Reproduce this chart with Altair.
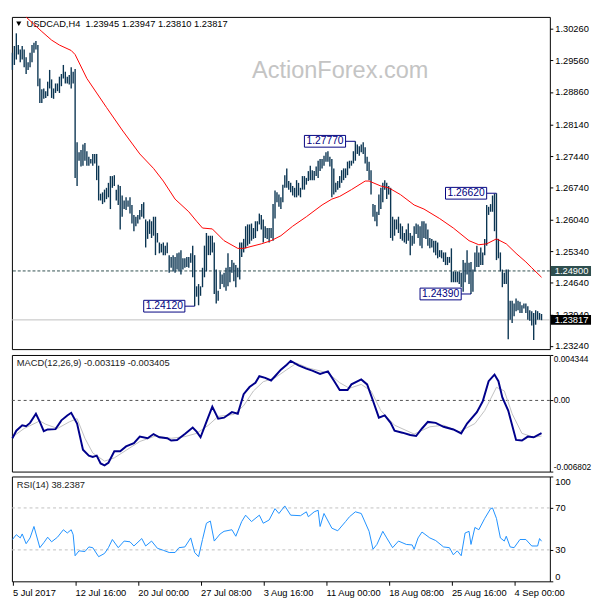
import json
import altair as alt
import pandas as pd

# ---------------- data ----------------
HIGH = [1.2973,1.2988,1.3016,1.2990,1.2980,1.2988,1.2980,1.2963,1.2952,1.2973,
        1.2990,1.2995,1.2999,1.2990,1.2916,1.2892,1.2894,1.2888,1.2909,1.2935,
        1.2914,1.2894,1.2905,1.2905,1.2920,1.2926,1.2946,1.2931,1.2920,1.2924,
        1.2941,1.2931,1.2937,1.2775,1.2753,1.2758,1.2770,1.2773,1.2755,1.2743,
        1.2738,1.2749,1.2749,1.2749,1.2723,1.2661,1.2664,1.2670,1.2674,1.2685,
        1.2700,1.2700,1.2702,1.2670,1.2681,1.2678,1.2657,1.2646,1.2653,1.2646,
        1.2653,1.2636,1.2614,1.2610,1.2614,1.2625,1.2638,1.2642,1.2604,1.2600,
        1.2604,1.2600,1.2610,1.2610,1.2574,1.2553,1.2550,1.2553,1.2546,1.2553,
        1.2525,1.2521,1.2525,1.2521,1.2529,1.2531,1.2536,1.2518,1.2518,1.2521,
        1.2521,1.2529,1.2546,1.2525,1.2456,1.2461,1.2456,1.2497,1.2546,1.2574,
        1.2568,1.2568,1.2568,1.2553,1.2493,1.2446,1.2489,1.2482,1.2486,1.2497,
        1.2529,1.2499,1.2514,1.2508,1.2503,1.2497,1.2553,1.2553,1.2561,1.2589,
        1.2593,1.2593,1.2595,1.2585,1.2600,1.2600,1.2617,1.2614,1.2604,1.2589,
        1.2585,1.2585,1.2585,1.2638,1.2668,1.2664,1.2659,1.2653,1.2681,1.2702,
        1.2717,1.2689,1.2685,1.2678,1.2674,1.2691,1.2685,1.2674,1.2700,1.2700,
        1.2696,1.2711,1.2723,1.2713,1.2711,1.2721,1.2734,1.2738,1.2738,1.2745,
        1.2753,1.2755,1.2743,1.2738,1.2717,1.2685,1.2689,1.2700,1.2713,1.2717,
        1.2717,1.2732,1.2734,1.2734,1.2755,1.2777,1.2770,1.2766,1.2770,1.2775,
        1.2764,1.2743,1.2732,1.2713,1.2638,1.2636,1.2621,1.2659,1.2674,1.2685,
        1.2691,1.2685,1.2678,1.2674,1.2610,1.2604,1.2604,1.2610,1.2595,1.2589,
        1.2574,1.2582,1.2595,1.2574,1.2568,1.2589,1.2595,1.2593,1.2589,1.2600,
        1.2600,1.2595,1.2582,1.2563,1.2561,1.2557,1.2557,1.2553,1.2536,1.2536,
        1.2531,1.2531,1.2521,1.2521,1.2540,1.2489,1.2489,1.2489,1.2489,1.2486,
        1.2514,1.2508,1.2536,1.2508,1.2510,1.2493,1.2531,1.2546,1.2531,1.2542,
        1.2531,1.2561,1.2636,1.2632,1.2638,1.2657,1.2661,1.2662,1.2561,1.2531,
        1.2493,1.2486,1.2493,1.2493,1.2424,1.2424,1.2418,1.2429,1.2424,1.2422,
        1.2414,1.2418,1.2418,1.2412,1.2403,1.2401,1.2397,1.2403,1.2401,1.2397,
        1.23947]
LOW = [1.2935,1.2946,1.2958,1.2969,1.2952,1.2958,1.2941,1.2926,1.2935,1.2941,
       1.2952,1.2973,1.2980,1.2899,1.2862,1.2862,1.2871,1.2873,1.2877,1.2894,
       1.2873,1.2871,1.2884,1.2888,1.2884,1.2899,1.2916,1.2905,1.2905,1.2903,
       1.2894,1.2905,1.2696,1.2678,1.2734,1.2721,1.2723,1.2734,1.2723,1.2723,
       1.2728,1.2723,1.2728,1.2691,1.2646,1.2646,1.2638,1.2642,1.2649,1.2653,
       1.2627,1.2674,1.2678,1.2646,1.2636,1.2582,1.2610,1.2627,1.2625,1.2632,
       1.2617,1.2595,1.2578,1.2589,1.2595,1.2604,1.2610,1.2606,1.2542,1.2561,
       1.2572,1.2563,1.2568,1.2525,1.2553,1.2529,1.2531,1.2525,1.2525,1.2529,
       1.2486,1.2497,1.2489,1.2486,1.2493,1.2489,1.2482,1.2493,1.2497,1.2499,
       1.2497,1.2508,1.2476,1.2412,1.2433,1.2414,1.2435,1.2454,1.2476,1.2489,
       1.2525,1.2525,1.2531,1.2439,1.2418,1.2424,1.2450,1.2461,1.2454,1.2446,
       1.2456,1.2465,1.2486,1.2467,1.2454,1.2476,1.2471,1.2521,1.2531,1.2540,
       1.2546,1.2550,1.2557,1.2561,1.2563,1.2578,1.2593,1.2582,1.2553,1.2563,
       1.2561,1.2553,1.2563,1.2557,1.2606,1.2642,1.2632,1.2627,1.2642,1.2674,
       1.2674,1.2670,1.2664,1.2657,1.2653,1.2653,1.2657,1.2653,1.2670,1.2670,
       1.2681,1.2689,1.2691,1.2691,1.2691,1.2700,1.2696,1.2711,1.2717,1.2723,
       1.2732,1.2732,1.2721,1.2653,1.2659,1.2664,1.2670,1.2674,1.2685,1.2691,
       1.2696,1.2702,1.2717,1.2723,1.2728,1.2734,1.2749,1.2745,1.2753,1.2749,
       1.2728,1.2711,1.2691,1.2659,1.2610,1.2600,1.2589,1.2614,1.2627,1.2642,
       1.2670,1.2649,1.2659,1.2563,1.2557,1.2568,1.2582,1.2574,1.2561,1.2557,
       1.2553,1.2550,1.2557,1.2525,1.2546,1.2550,1.2572,1.2563,1.2546,1.2540,
       1.2563,1.2561,1.2546,1.2540,1.2542,1.2531,1.2525,1.2518,1.2521,1.2518,
       1.2510,1.2503,1.2503,1.2508,1.2465,1.2465,1.2465,1.2465,1.2461,1.2454,
       1.2444,1.2465,1.2482,1.2461,1.2439,1.2444,1.2489,1.2499,1.2499,1.2503,
       1.2503,1.2525,1.2546,1.2614,1.2621,1.2621,1.2578,1.2514,1.2518,1.2489,
       1.2454,1.2461,1.2461,1.2339,1.2382,1.2375,1.2390,1.2401,1.2403,1.2397,
       1.2397,1.2407,1.2397,1.2382,1.2380,1.2369,1.2337,1.2371,1.2382,1.2382,
       1.23810]

MA_IDX = [7,15,20,24,30,32,38,43,48,56,65,72,77,83,90,94,97,102,108,115,118,127,
          132,137,143,150,158,163,167,173,180,182,188,192,198,205,210,218,225,233,
          238,242,247,252,257,262,265,270]
MA_VAL = [1.3052,1.3020,1.3001,1.2990,1.2978,1.2969,1.2916,1.2884,1.2852,1.2802,
          1.2749,1.2717,1.2689,1.2649,1.2621,1.2600,1.2585,1.2583,1.2557,1.2540,
          1.2540,1.2550,1.2557,1.2568,1.2589,1.2610,1.2636,1.2649,1.2655,1.2670,
          1.2689,1.2689,1.2678,1.2674,1.2659,1.2636,1.2627,1.2606,1.2585,1.2557,
          1.2548,1.2550,1.2561,1.2550,1.2529,1.2510,1.2497,1.2476]

MACD_IDX = [0,2,5,7,9,12,14,16,18,22,25,28,30,33,36,39,41,43,45,47,49,52,55,58,62,
            65,69,72,75,79,81,84,88,92,94,96,99,102,105,108,112,115,118,121,124,
            126,129,132,134,137,140,142,146,150,153,157,161,164,167,171,173,178,
            181,184,187,190,193,195,199,203,206,209,212,216,220,225,229,232,237,
            240,243,246,248,250,253,257,260,263,266,270]
MACD_VAL = [-0.003617,-0.002896,-0.002371,-0.002465,-0.002147,-0.001276,-0.002053,
            -0.002933,-0.002774,-0.002746,-0.001903,-0.001435,-0.001182,-0.002212,
            -0.004713,-0.005275,-0.005397,-0.005275,-0.006024,-0.006211,-0.005959,
            -0.004863,-0.004863,-0.004394,-0.004085,-0.003458,-0.003617,-0.003214,
            -0.003523,-0.003617,-0.003833,-0.003776,-0.003214,-0.002587,-0.002990,
            -0.003523,-0.002053,-0.000592,-0.001744,-0.001650,-0.001116,-0.001276,
            0.000598,0.001281,0.001693,0.002312,0.002162,0.001909,0.002312,0.002939,
            0.003407,0.003782,0.003342,0.003033,0.002845,0.002536,0.002780,0.001909,
            0.001000,0.001000,0.001534,0.002002,0.001534,-0.000030,-0.001650,
            -0.001435,-0.002147,-0.002896,-0.003083,-0.003308,-0.003402,-0.002681,
            -0.002053,-0.002147,-0.002521,-0.002774,-0.003149,-0.002212,-0.001116,
            -0.000086,0.001843,0.002471,0.001843,0.000289,-0.000966,-0.003776,
            -0.003833,-0.003458,-0.003523,-0.003119]
SIG_IDX = [0,6,14,17,23,29,33,37,41,47,52,58,65,73,81,88,94,100,105,113,118,123,
           128,134,140,145,151,161,167,172,178,183,188,195,205,213,220,228,236,241,
           247,251,255,260,266,270]
SIG_VAL = [-0.003500,-0.002681,-0.001959,-0.002278,-0.002681,-0.002053,-0.001744,
           -0.003617,-0.005022,-0.005799,-0.005490,-0.004769,-0.003926,-0.003402,
           -0.003617,-0.003458,-0.003149,-0.002371,-0.001528,-0.001341,-0.000498,
           0.000907,0.001787,0.002162,0.002939,0.003567,0.003098,0.002630,0.001693,
           0.001160,0.001534,0.000907,-0.000966,-0.002371,-0.003214,-0.002521,
           -0.002371,-0.002990,-0.002212,-0.000966,0.001253,0.000907,-0.001276,
           -0.003149,-0.003523,-0.003405]

RSI_IDX = [0,2,4,5,7,9,11,14,16,18,20,23,26,28,30,31,32,34,37,39,41,44,47,49,51,54,
           57,60,62,66,68,71,74,77,80,83,85,88,91,93,95,97,99,101,103,106,108,112,
           114,117,119,122,126,128,131,134,136,139,142,147,150,151,154,156,157,159,
           163,166,170,172,175,178,182,184,186,189,191,194,197,201,204,205,207,209,
           213,216,220,223,225,227,229,231,233,234,236,238,241,244,245,247,249,251,
           252,254,256,259,262,265,268,269,270]
RSI_VAL = [39.9,44.5,41.4,45.2,35.9,41.4,52.3,32.1,36.8,42.1,37.7,42.1,49.2,46.1,
           49.2,44.5,24.4,29.1,28.4,32.8,32.1,23.5,26.6,32.1,39.9,32.1,38.4,37.7,
           33.7,40.8,33.7,38.4,31.5,29.6,27.5,27.5,32.1,32.8,41.4,27.5,23.5,39.9,
           55.4,57.5,38.4,45.2,47.7,49.2,43.0,57.0,63.1,57.0,63.1,55.4,58.5,69.3,
           64.7,71.9,63.1,62.6,66.3,61.6,66.3,67.8,52.3,64.7,50.7,48.2,57.0,61.6,
           66.3,64.7,47.7,30.6,35.2,47.7,41.4,32.1,38.4,35.2,34.7,30.6,41.4,47.0,
           41.4,38.9,32.8,32.1,25.3,29.1,24.4,46.1,47.7,35.2,51.4,49.2,60.0,69.3,
           70.0,60.0,41.4,38.4,43.0,32.8,32.1,39.9,39.9,33.7,33.7,40.8,38.2387]

PRICE_TICKS = [1.30260,1.29560,1.28860,1.28140,1.27440,1.26740,1.26040,1.25340,
               1.24640,1.23940,1.23240]
MACD_LEVELS = [0.004344, 0.0, -0.006802]
MACD_LEVEL_TEXT = ["0.004344", "0.00", "-0.006802"]
RSI_TICKS = [100, 70, 30, 0]
RSI_LEVELS = [70, 30]
DATE_TICKS = [0, 32, 64, 96, 128, 160, 192, 224, 256]
DATE_LABELS = ["5 Jul 2017", "12 Jul 16:00", "20 Jul 00:00", "27 Jul 08:00",
               "3 Aug 16:00", "11 Aug 00:00", "18 Aug 08:00", "25 Aug 16:00",
               "4 Sep 00:00"]
NOTE_BAR = [93, 175, 247, 234]
NOTE_PRICE = [1.24120, 1.27770, 1.26620, 1.24390]
LEVEL_PRICE = 1.24900
LAST_PRICE = 1.23817
HEADER = "USDCAD,H4\u00a0 1.23945 1.23947 1.23810 1.23817"
MACD_TITLE = "MACD(12,26,9) -0.003119 -0.003405"
RSI_TITLE = "RSI(14) 38.2387"
WATERMARK = "ActionForex.com"

# ---------------- layout / style ----------------
W = 549
H_MAIN, H_MACD, H_RSI = 339, 119, 107
FONT = "Liberation Sans"
FS = 9.5
BAR_COLOR = "#0b3552"

# 2 px per bar
XS = alt.Scale(domain=[-0.25, 274.25], nice=False, zero=False)
YS_MAIN = alt.Scale(domain=[1.2317, 1.30523], nice=False, zero=False)
YS_MACD = alt.Scale(domain=[MACD_LEVELS[2], MACD_LEVELS[0]], nice=False, zero=False)
YS_RSI = alt.Scale(domain=[0, 100], nice=False, zero=False)

main_axis = alt.Axis(orient="right", values=PRICE_TICKS, format=".5f", title=None,
                     grid=False, domain=False, tickSize=3, tickColor="black",
                     labelColor="black", labelFontSize=FS, labelFont=FONT,
                     labelPadding=2, labelOverlap=False)
macd_axis = alt.Axis(orient="right", values=MACD_LEVELS, labels=False, title=None,
                     grid=False, domain=False, tickSize=3, tickColor="black")
rsi_axis = alt.Axis(orient="right", values=RSI_TICKS, format="d", title=None,
                    grid=False, domain=False, tickSize=3, tickColor="black",
                    labelColor="black", labelFontSize=FS, labelFont=FONT,
                    labelPadding=2, labelOverlap=False,
                    labelBaseline={"condition": [
                        {"test": "datum.value >= 100", "value": "top"},
                        {"test": "datum.value <= 0", "value": "bottom"}],
                        "value": "middle"})
label_expr = "%s[indexof(%s, datum.value)]" % (json.dumps(DATE_LABELS), json.dumps(DATE_TICKS))
x_axis = alt.Axis(values=DATE_TICKS, labelExpr=label_expr, labelAlign="left",
                  tickSize=4, tickColor="black", labelColor="black",
                  labelFontSize=FS, labelFont=FONT, labelPadding=2, domain=False,
                  grid=False, title=None, labelOverlap=False, labelFlush=False,
                  labelBound=False)


def xq(field, axis=None):
    return alt.X(field, type="quantitative", scale=XS, axis=axis)


def yq(field, scale, axis):
    return alt.Y(field, type="quantitative", scale=scale, axis=axis)


def one(**kw):
    return pd.DataFrame({k: [v] for k, v in kw.items()})


# ---------------- main price panel ----------------
bars = pd.DataFrame({"i": list(range(len(HIGH))), "high": HIGH, "low": LOW})
ma = pd.DataFrame({"i": MA_IDX, "v": MA_VAL})
notes = pd.DataFrame({"bar": NOTE_BAR, "price": NOTE_PRICE})
notes["label"] = [f"{p:.5f}" for p in NOTE_PRICE]
notes["right"] = notes["bar"] - 5
notes["left"] = notes["bar"] - 26
notes["mid"] = (notes["left"] + notes["right"]) / 2
notes["top"] = notes["price"] + 0.0013
notes["bot"] = notes["price"] - 0.0013
side = pd.DataFrame({"p": [LEVEL_PRICE, LAST_PRICE],
                     "label": [f"{LEVEL_PRICE:.5f}", f"{LAST_PRICE:.5f}"],
                     "fill": ["#2f4f4f", "#000000"]})
side["top"] = side["p"] + 0.0011
side["bot"] = side["p"] - 0.0011

watermark = alt.Chart(one(t=WATERMARK)).mark_text(
    font=FONT, fontSize=24, color="#c4c4c4", align="center", baseline="middle"
).encode(text="t:N", x=alt.value(335), y=alt.value(55))
tri = alt.Chart(one(t="")).mark_point(
    shape="triangle-down", filled=True, size=28, color="black", opacity=1
).encode(x=alt.value(7), y=alt.value(7))
header = alt.Chart(one(t=HEADER)).mark_text(
    font=FONT, fontSize=FS, color="black", align="left", baseline="middle"
).encode(text="t:N", x=alt.value(15), y=alt.value(7))
level_line = alt.Chart(one(p=LEVEL_PRICE)).mark_rule(
    color="#2f4f4f", strokeDash=[3, 2], strokeWidth=1
).encode(y=yq("p", YS_MAIN, main_axis))
last_line = alt.Chart(one(p=LAST_PRICE)).mark_rule(
    color="#c0c0c0", strokeWidth=1
).encode(y=yq("p", YS_MAIN, main_axis))
bar_layer = alt.Chart(bars).mark_rule(color=BAR_COLOR, strokeWidth=1.4).encode(
    x=xq("i"), y=yq("high", YS_MAIN, main_axis), y2="low:Q")
ma_layer = alt.Chart(ma).mark_line(color="#ff0000", strokeWidth=1).encode(
    x=xq("i"), y=yq("v", YS_MAIN, main_axis))
note_conn = alt.Chart(notes).mark_rule(color="#000080", strokeWidth=1).encode(
    x=xq("right"), x2="bar:Q", y=yq("price", YS_MAIN, main_axis))
note_box = alt.Chart(notes).mark_rect(fill="white", stroke="#000080", strokeWidth=1).encode(
    x=xq("left"), x2="right:Q", y=yq("top", YS_MAIN, main_axis), y2="bot:Q")
note_text = alt.Chart(notes).mark_text(
    font=FONT, fontSize=10.5, color="#000080", align="center", baseline="middle"
).encode(x=xq("mid"), y=yq("price", YS_MAIN, main_axis), text="label:N")
side_box = alt.Chart(side).mark_rect().encode(
    x=alt.value(W + 1), x2=alt.value(W + 42),
    y=yq("top", YS_MAIN, main_axis), y2="bot:Q",
    fill=alt.Fill("fill:N", scale=None))
side_text = alt.Chart(side).mark_text(
    font=FONT, fontSize=FS, color="white", align="left", baseline="middle"
).encode(x=alt.value(W + 5), y=yq("p", YS_MAIN, main_axis), text="label:N")

main = alt.layer(
    watermark, tri, header, level_line, last_line, bar_layer, ma_layer,
    note_conn, note_box, note_text, side_box, side_text
).properties(width=W, height=H_MAIN)

# ---------------- MACD panel ----------------
macd_df = pd.DataFrame({"i": MACD_IDX, "v": MACD_VAL})
sig_df = pd.DataFrame({"i": SIG_IDX, "v": SIG_VAL})
zero_line = alt.Chart(one(v=0.0)).mark_rule(
    color="#505050", strokeDash=[3, 3], strokeWidth=1
).encode(y=yq("v", YS_MACD, macd_axis))
sig_layer = alt.Chart(sig_df).mark_line(color="#c0c0c0", strokeWidth=1).encode(
    x=xq("i"), y=yq("v", YS_MACD, macd_axis))
macd_layer = alt.Chart(macd_df).mark_line(color="#00008b", strokeWidth=2).encode(
    x=xq("i"), y=yq("v", YS_MACD, macd_axis))
macd_title = alt.Chart(one(t=MACD_TITLE)).mark_text(
    font=FONT, fontSize=FS, color="#1a1a1a", align="left", baseline="middle"
).encode(text="t:N", x=alt.value(5), y=alt.value(8))
macd_labels = []
for val, txt, base in zip(MACD_LEVELS, MACD_LEVEL_TEXT, ["top", "middle", "bottom"]):
    macd_labels.append(
        alt.Chart(one(v=val, t=txt)).mark_text(
            font=FONT, fontSize=8.5, color="black", align="left", baseline=base,
            limit=39, ellipsis=""
        ).encode(x=alt.value(W + 4), y=yq("v", YS_MACD, macd_axis), text="t:N"))
macd = alt.layer(zero_line, sig_layer, macd_layer, macd_title, *macd_labels).properties(
    width=W, height=H_MACD)

# ---------------- RSI panel ----------------
rsi_df = pd.DataFrame({"i": RSI_IDX, "v": RSI_VAL})
rsi_lv = pd.DataFrame({"v": RSI_LEVELS})
rsi_lines = alt.Chart(rsi_lv).mark_rule(
    color="#c0c0c0", strokeDash=[3, 3], strokeWidth=1
).encode(y=yq("v", YS_RSI, rsi_axis))
rsi_layer = alt.Chart(rsi_df).mark_line(color="#1e90ff", strokeWidth=1).encode(
    x=xq("i", x_axis), y=yq("v", YS_RSI, rsi_axis))
rsi_title = alt.Chart(one(t=RSI_TITLE)).mark_text(
    font=FONT, fontSize=FS, color="#1a1a1a", align="left", baseline="middle"
).encode(text="t:N", x=alt.value(5), y=alt.value(9))
rsi = alt.layer(rsi_lines, rsi_layer, rsi_title).properties(width=W, height=H_RSI)

chart = alt.vconcat(main, macd, rsi, spacing=3).properties(
    padding=0, background="white"
).configure_view(stroke="black", strokeWidth=1)

chart.save("out.html", embed_options={"renderer": "svg", "actions": False})
